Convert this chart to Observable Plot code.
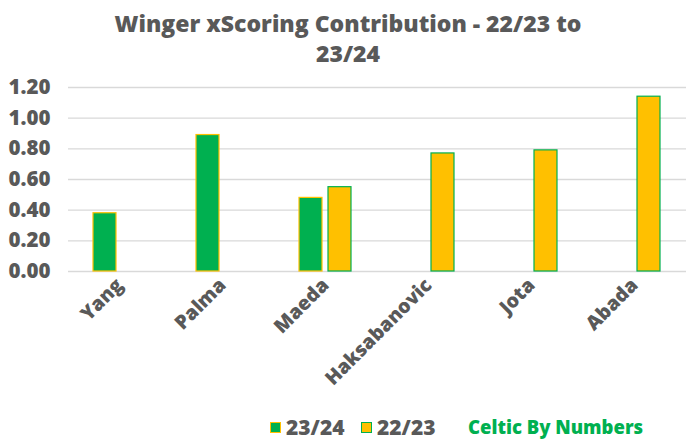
<!DOCTYPE html>
<html>
<head>
<meta charset="utf-8">
<script src="https://cdn.jsdelivr.net/npm/d3@7"></script>
<script src="https://cdn.jsdelivr.net/npm/@observablehq/plot@0.6"></script>
<style>
  body { margin: 0; background: #fff; width: 696px; height: 448px; overflow: hidden; font-family: "Open Sans", sans-serif; }
  #title { text-align: center; color: #595959; font-weight: 800; font-size: 23px; line-height: 30px; height: 70px; padding-top: 8px; box-sizing: border-box; }
  #legend { position: absolute; top: 412px; left: 0; width: 696px; height: 30px; font-weight: 800; font-size: 21px; color: #595959; }
  .item { position: absolute; top: 0; display: flex; align-items: center; height: 30px; }
  .sw { width: 9px; height: 9px; margin-right: 5px; }
  #credit { position: absolute; left: 468px; top: 0; height: 30px; line-height: 30px; color: #00B050; font-size: 18.5px; font-weight: 800; }
</style>
</head>
<body>
<div id="title">Winger xScoring Contribution - 22/23 to<br>23/24</div>
<div id="chart"></div>
<div id="legend">
  <div class="item" style="left:270px"><div class="sw" style="background:#00B050;border:1px solid #FFC000"></div>23/24</div>
  <div class="item" style="left:361px"><div class="sw" style="background:#FFC000;border:1px solid #00B050"></div>22/23</div>
  <div id="credit">Celtic By Numbers</div>
</div>
<script>
const players = ["Yang", "Palma", "Maeda", "Haksabanovic", "Jota", "Abada"];
const seasons = ["23/24", "22/23"];
const values2324 = [0.38, 0.89, 0.48, null, null, null];
const values2223 = [null, null, 0.55, 0.77, 0.79, 1.14];
const yTicks = [0, 0.2, 0.4, 0.6, 0.8, 1.0, 1.2];
const fills = {"23/24": "#00B050", "22/23": "#FFC000"};
const strokes = {"23/24": "#FFC000", "22/23": "#00B050"};

const data = [];
players.forEach((p, i) => {
  if (values2324[i] != null) data.push({player: p, season: "23/24", value: values2324[i]});
  if (values2223[i] != null) data.push({player: p, season: "22/23", value: values2223[i]});
});

const chart = Plot.plot({
  width: 696,
  height: 340,
  marginLeft: 66,
  marginRight: 8,
  marginTop: 17,
  marginBottom: 139,
  style: {fontFamily: "Open Sans, sans-serif"},
  fx: {domain: players, padding: 0, label: null, axis: null},
  x: {domain: seasons, paddingInner: 0.2, paddingOuter: 0.86, axis: null},
  y: {domain: [0, 1.2], ticks: yTicks, label: null, axis: null},
  marks: [
    Plot.ruleY(yTicks, {stroke: "#d9d9d9", strokeWidth: 1.3}),
    Plot.barY(data, {
      fx: "player", x: "season", y: "value",
      fill: d => fills[d.season], stroke: d => strokes[d.season], strokeWidth: 1.2
    }),
    Plot.axisY({ticks: yTicks, tickFormat: d => d.toFixed(2), tickSize: 0, tickPadding: 18,
      fontSize: 20.5, fontWeight: 800, fill: "#595959", facetAnchor: "left", label: null}),
    Plot.text(players, {fx: d => d, frameAnchor: "bottom", text: d => d, rotate: -45,
      textAnchor: "end", dx: 4, dy: 15, fontSize: 19.5, fontWeight: 800, fill: "#595959"})
  ]
});
document.getElementById("chart").appendChild(chart);
</script>
</body>
</html>
